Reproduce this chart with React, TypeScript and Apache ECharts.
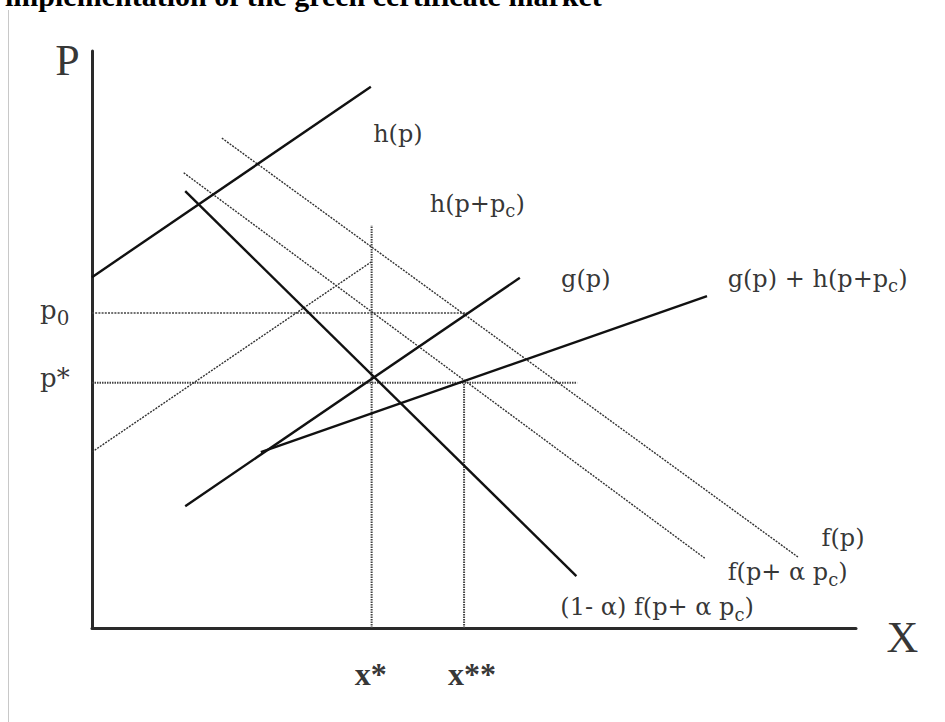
import React, { useEffect, useRef } from "react";
import * as echarts from "echarts";

// ---- data (x = quantity, p = price, arbitrary units 0..100) ----
const titleText = "implementation of the green certificate market";

const hP: number[][] = [[0, 60.8], [36.5, 93.8]];
const hPpc: number[][] = [[0, 30.5], [36.5, 63.4]];
const gP: number[][] = [[12.2, 21.1], [56.0, 60.7]];
const gPlusH: number[][] = [[22.1, 30.5], [80.5, 57.5]];
const fP: number[][] = [[17.0, 84.9], [92.4, 12.3]];
const fPalpha: number[][] = [[12.0, 78.9], [80.2, 12.1]];
const oneMinusAlphaF: number[][] = [[12.2, 75.7], [63.4, 9.0]];

const p0 = 54.6;
const pStar = 42.5;
const xStar = 36.6;
const xStarStar = 48.7;
const p0End = 49.1;
const pStarEnd = 63.5;
const xStarTop = 69.8;

const curveLabels = [
  "{n|h(p)}",
  "{n|h(p+p}{s|c}{n|)}",
  "{n|g(p)}",
  "{n|g(p) + h(p+p}{s|c}{n|)}",
  "{n|f(p)}",
  "{n|f(p+ α p}{s|c}{n|)}",
  "{n|(1- α) f(p+ α p}{s|c}{n|)}",
  "{m|p}{z|0}",
  "{m|p*}",
  "{b|x*}",
  "{b|x**}",
  "{big|P}",
  "{big|X}",
];

// anchor (left edge, vertical middle) of each label in axis units
const labelAnchors: number[][] = [
  [36.8, 85.6],
  [44.2, 73.5],
  [61.4, 60.5],
  [83.2, 60.5],
  [95.5, 15.6],
  [83.2, 9.7],
  [61.3, 3.6],
  [-6.8, 55.1],
  [-6.8, 43.3],
  [34.4, -8.0],
  [46.6, -8.0],
  [-4.8, 98.4],
  [104.0, -1.6],
];

const SERIF = "DejaVu Serif";
const TIMES = "Liberation Serif";

const RICH: any = {
  n: { fontFamily: SERIF, fontSize: 24, color: "#000", verticalAlign: "middle" },
  s: { fontFamily: SERIF, fontSize: 18, color: "#000", verticalAlign: "middle", padding: [14, 0, 0, 0] },
  m: { fontFamily: SERIF, fontSize: 26, color: "#000", verticalAlign: "middle" },
  z: { fontFamily: SERIF, fontSize: 20, color: "#000", verticalAlign: "middle", padding: [16, 0, 0, 0] },
  b: { fontFamily: TIMES, fontWeight: "bold", fontSize: 32, color: "#000", verticalAlign: "middle" },
  big: { fontFamily: TIMES, fontSize: 44, color: "#000", verticalAlign: "middle" },
};

const solid = { color: "#111", width: 2.4, type: "solid" as const };
const dottedDiag = { color: "#333", width: 1.4, type: [2, 1.2] };
const guide = { color: "#444", width: 2, type: [1.5, 1] };
const guideFine = { color: "#444", width: 1.5, type: [2, 1.2] };

function lineSeries(name: string, data: number[][], style: any, z = 3) {
  return {
    name,
    type: "line",
    data,
    symbol: "none",
    showSymbol: false,
    silent: true,
    z,
    lineStyle: style,
  };
}

export default function App() {
  const ref = useRef<HTMLDivElement>(null);
  useEffect(() => {
    if (!ref.current) return;
    const chart = echarts.init(ref.current, undefined, { renderer: "svg" });
    const option: any = {
      animation: false,
      backgroundColor: "#fff",
      grid: { left: 92, right: 89, top: 51, bottom: 94, containLabel: false },
      xAxis: {
        type: "value",
        min: 0,
        max: 100,
        axisLine: { show: true, onZero: false, lineStyle: { color: "#2a2a2a", width: 3 } },
        axisTick: { show: false },
        axisLabel: { show: false },
        splitLine: { show: false },
      },
      yAxis: {
        type: "value",
        min: 0,
        max: 100,
        axisLine: { show: true, onZero: false, lineStyle: { color: "#2a2a2a", width: 3 } },
        axisTick: { show: false },
        axisLabel: { show: false },
        splitLine: { show: false },
      },
      graphic: [
        {
          type: "line",
          shape: { x1: 8.5, y1: 10, x2: 8.5, y2: 722 },
          style: { stroke: "#c8c8c8", lineWidth: 1 },
          silent: true,
        },
        {
          type: "text",
          x: 5,
          y: -4.6,
          style: {
            text: titleText,
            fontFamily: TIMES,
            fontWeight: "bold",
            fontSize: 30,
            fill: "#000",
            verticalAlign: "middle",
            align: "left",
          },
          silent: true,
        },
      ],
      series: [
        lineSeries("p0", [[0, p0], [p0End, p0]], guideFine, 2),
        lineSeries("p*", [[0, pStar], [pStarEnd, pStar]], guide, 2),
        lineSeries("x*", [[xStar, 0], [xStar, xStarTop]], guide, 2),
        lineSeries("x**", [[xStarStar, 0], [xStarStar, pStar]], guide, 2),
        lineSeries("f(p)", fP, dottedDiag, 2),
        lineSeries("f(p+αpc)", fPalpha, dottedDiag, 2),
        lineSeries("h(p+pc)", hPpc, dottedDiag, 2),
        lineSeries("h(p)", hP, solid),
        lineSeries("g(p)", gP, solid),
        lineSeries("g(p)+h(p+pc)", gPlusH, solid),
        lineSeries("(1-α)f(p+αpc)", oneMinusAlphaF, solid),
        {
          name: "labels",
          type: "scatter",
          silent: true,
          clip: false,
          symbolSize: 1,
          itemStyle: { color: "transparent" },
          z: 5,
          data: curveLabels.map((t, i) => ({
            value: labelAnchors[i],
            label: {
              show: true,
              position: "inside",
              align: "left",
              verticalAlign: "middle",
              formatter: () => t,
              rich: RICH,
            },
          })),
        },
      ],
    };
    chart.setOption(option);
    return () => chart.dispose();
  }, []);
  return (
    <div
      ref={ref}
      style={{ position: "fixed", left: 0, top: 0, width: 945, height: 722, background: "#fff" }}
    />
  );
}
